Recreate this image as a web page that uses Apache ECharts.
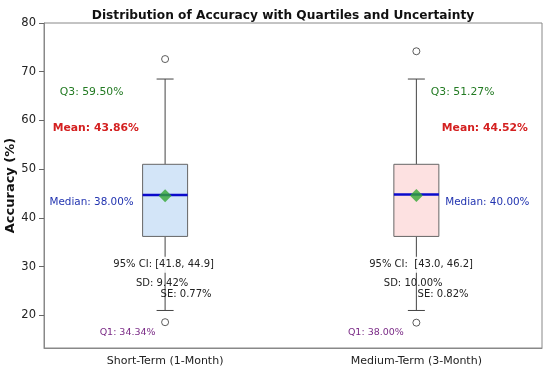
<!DOCTYPE html>
<html>
<head>
<meta charset="utf-8">
<script src="https://cdn.jsdelivr.net/npm/echarts@6/dist/echarts.min.js"></script>
<style>html,body{margin:0;padding:0;background:#fff}#c{width:550px;height:370px}</style>
</head>
<body>
<div id="c"></div>
<script>
// ---- data ----
var categories = ['Short-Term (1-Month)', 'Medium-Term (3-Month)'];
var lowerWhisker = [21.0, 21.0];
var q1Values = [36.2, 36.2];
var medianValues = [44.7, 44.8];
var q3Values = [51.0, 51.0];
var upperWhisker = [68.5, 68.5];
var outliers = [[72.6, 18.6], [74.2, 18.5]];
var meanValues = [44.55, 44.6];
var yTicks = [20, 30, 40, 50, 60, 70, 80];

var q3Labels = ['Q3: 59.50%', 'Q3: 51.27%'];
var meanLabels = ['Mean: 43.86%', 'Mean: 44.52%'];
var medianLabels = ['Median: 38.00%', 'Median: 40.00%'];
var ciLabels = ['95% CI: [41.8, 44.9]', '95% CI:  [43.0, 46.2]'];
var sdLabels = ['SD: 9.42%', 'SD: 10.00%'];
var seLabels = ['SE: 0.77%', 'SE: 0.82%'];
var q1Labels = ['Q1: 34.34%', 'Q1: 38.00%'];

// ---- layout / style (not data) ----
var FONT = 'DejaVu Sans';
var boxFill = ['#d3e5f8', '#fde1e1'];
var BOX_W = 45, CAP_W = 17;
var annoDefs = [
  {labels: q3Labels, y: [65.7, 65.7], dx: [-73.5, 46.3], color: '#227a22', size: 10.8, weight: 'normal'},
  {labels: meanLabels, y: [58.4, 58.4], dx: [-69.3, 68.5], color: '#d42020', size: 10.8, weight: 'bold'},
  {labels: medianLabels, y: [43.3, 43.3], dx: [-73.5, 71], color: '#2234b0', size: 10.4, weight: 'normal'},
  {labels: ciLabels, y: [30.4, 30.4], dx: [-1.5, 4.7], color: '#222', size: 10, weight: 'normal', bg: true},
  {labels: sdLabels, y: [26.65, 26.65], dx: [-3, -3.2], color: '#222', size: 10, weight: 'normal'},
  {labels: seLabels, y: [24.2, 24.2], dx: [21, 26.7], color: '#222', size: 10, weight: 'normal'},
  {labels: q1Labels, y: [16.4, 16.4], dx: [-37.5, -40.5], color: '#7a2a86', size: 9.5, weight: 'normal'}
];

var boxData = categories.map(function (c, i) {
  return [i + 1, lowerWhisker[i], q1Values[i], medianValues[i], q3Values[i], upperWhisker[i], i];
});
var outlierData = [];
outliers.forEach(function (arr, i) { arr.forEach(function (v) { outlierData.push([i + 1, v]); }); });
var meanData = meanValues.map(function (v, i) { return [i + 1, v]; });
var annoData = [];
annoDefs.forEach(function (d, k) {
  categories.forEach(function (c, i) { annoData.push([i + 1, d.y[i], k, i]); });
});

var chart = echarts.init(document.getElementById('c'), null, {renderer: 'canvas'});
chart.setOption({
  animation: false,
  title: {
    text: 'Distribution of Accuracy with Quartiles and Uncertainty',
    left: 278, top: 5, textAlign: 'center',
    textStyle: {fontFamily: FONT, fontSize: 12.2, fontWeight: 'bold', color: '#111'}
  },
  grid: {left: 44, right: 8, top: 23, bottom: 22, containLabel: false, outerBoundsMode: 'none',
    show: true, borderColor: '#888', borderWidth: 1, backgroundColor: 'transparent'},
  xAxis: {
    type: 'value', min: 0.518, max: 2.5,
    axisLine: {show: true, lineStyle: {color: '#888'}},
    axisTick: {show: false},
    splitLine: {show: false},
    axisLabel: {
      customValues: [1, 2],
      formatter: function (v) { return categories[Math.round(v) - 1] || ''; },
      fontFamily: FONT, fontSize: 11, color: '#222', margin: 8
    }
  },
  yAxis: {
    type: 'value', min: 13.3, max: 80,
    name: 'Accuracy (%)', nameLocation: 'middle', nameGap: 27, nameMoveOverlap: false,
    nameTextStyle: {fontFamily: FONT, fontSize: 13, fontWeight: 'bold', color: '#111'},
    axisLine: {show: true, lineStyle: {color: '#888'}},
    axisTick: {show: true, customValues: yTicks, length: 5, lineStyle: {color: '#666'}},
    splitLine: {show: false},
    axisLabel: {customValues: yTicks, fontFamily: FONT, fontSize: 11.5, color: '#222', margin: 8}
  },
  series: [
    {
      type: 'custom',
      data: boxData,
      z: 2,
      renderItem: function (params, api) {
        var x = api.value(0);
        var i = api.value(6);
        var pLW = api.coord([x, api.value(1)]);
        var pQ1 = api.coord([x, api.value(2)]);
        var pMed = api.coord([x, api.value(3)]);
        var pQ3 = api.coord([x, api.value(4)]);
        var pUW = api.coord([x, api.value(5)]);
        var cx = pQ1[0];
        var lineStyle = {stroke: '#444', lineWidth: 1};
        return {
          type: 'group',
          children: [
            {type: 'line', shape: {x1: cx, y1: pQ3[1], x2: cx, y2: pUW[1]}, style: lineStyle},
            {type: 'line', shape: {x1: cx, y1: pQ1[1], x2: cx, y2: pLW[1]}, style: lineStyle},
            {type: 'line', shape: {x1: cx - CAP_W / 2, y1: pUW[1], x2: cx + CAP_W / 2, y2: pUW[1]}, style: lineStyle},
            {type: 'line', shape: {x1: cx - CAP_W / 2, y1: pLW[1], x2: cx + CAP_W / 2, y2: pLW[1]}, style: lineStyle},
            {type: 'rect', shape: {x: cx - BOX_W / 2, y: pQ3[1], width: BOX_W, height: pQ1[1] - pQ3[1]},
              style: {fill: boxFill[i], stroke: '#666', lineWidth: 1}},
            {type: 'line', shape: {x1: cx - BOX_W / 2, y1: pMed[1], x2: cx + BOX_W / 2, y2: pMed[1]},
              style: {stroke: '#0a0acc', lineWidth: 2.5}}
          ]
        };
      }
    },
    {
      type: 'scatter', data: outlierData, symbol: 'circle', symbolSize: 7, z: 3,
      itemStyle: {color: '#fff', borderColor: '#333', borderWidth: 1}
    },
    {
      type: 'scatter', data: meanData, symbol: 'diamond', symbolSize: [13, 13], z: 4,
      itemStyle: {color: '#33a833'}
    },
    {
      type: 'custom', data: annoData, z: 5,
      renderItem: function (params, api) {
        var k = api.value(2), i = api.value(3);
        var d = annoDefs[k];
        var p = api.coord([api.value(0), api.value(1)]);
        var st = {
          text: d.labels[i], x: p[0] + d.dx[i], y: p[1],
          align: 'center', verticalAlign: 'middle',
          fontFamily: FONT, fontSize: d.size, fontWeight: d.weight, fill: d.color
        };
        if (d.bg) { st.backgroundColor = 'rgba(255,255,255,0.9)'; st.padding = [3, 0]; }
        return {type: 'text', style: st};
      }
    }
  ]
});
</script>
</body>
</html>
